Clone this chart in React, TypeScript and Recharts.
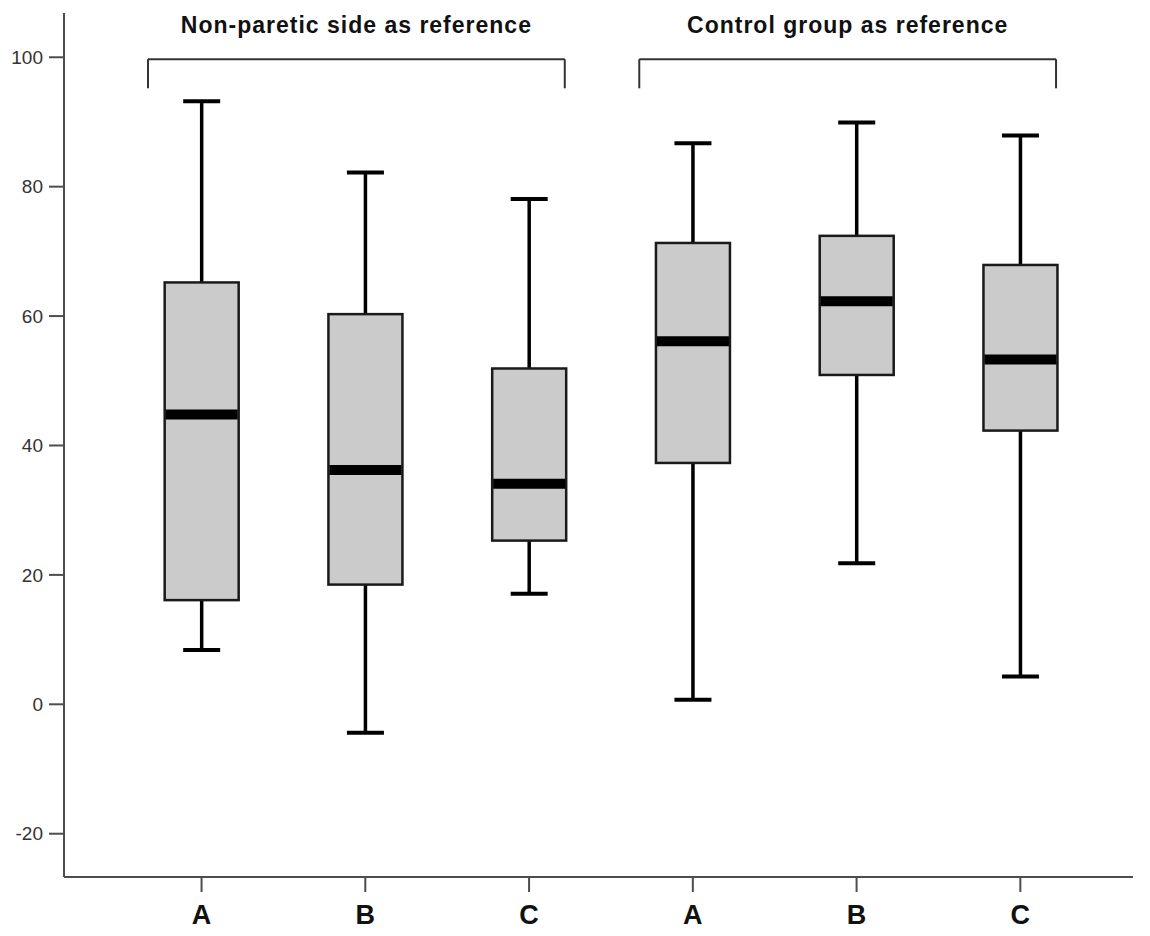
import React from 'react';
import { ComposedChart, Bar, XAxis, YAxis, ReferenceLine } from 'recharts';

const categories = ['A', 'B', 'C', 'A', 'B', 'C'];
const positions = [1, 2, 3, 4, 5, 6];
const whiskerLow = [8.4, -4.4, 17.1, 0.7, 21.8, 4.3];
const quartile1 = [16.1, 18.5, 25.3, 37.3, 50.9, 42.3];
const medians = [44.8, 36.2, 34.1, 56.1, 62.3, 53.3];
const quartile3 = [65.2, 60.3, 51.9, 71.3, 72.4, 67.9];
const whiskerHigh = [93.2, 82.2, 78.1, 86.7, 89.9, 87.9];
const yTicks = [-20, 0, 20, 40, 60, 80, 100];
const groupTitles = ['Non-paretic side as reference', 'Control group as reference'];
const groupMembers = [[0, 2], [3, 5]];

const data = positions.map((p, i) => ({
  pos: p,
  label: categories[i],
  min: whiskerLow[i],
  q1: quartile1[i],
  median: medians[i],
  q3: quartile3[i],
  max: whiskerHigh[i],
  box: [quartile1[i], quartile3[i]],
}));

const FONT = '"Liberation Sans", Arial, sans-serif';

const BoxShape = (props: any) => {
  const { x, y, width, height, payload } = props;
  const ppu = height / (payload.q3 - payload.q1);
  const py = (v: number) => y + (payload.q3 - v) * ppu;
  const cx = x + width / 2;
  const capW = 37;
  const yMax = py(payload.max);
  const yMin = py(payload.min);
  const yMed = py(payload.median);
  return (
    <g>
      <line x1={cx} x2={cx} y1={yMax} y2={y} stroke="#000" strokeWidth={3.5} />
      <line x1={cx} x2={cx} y1={y + height} y2={yMin} stroke="#000" strokeWidth={3.5} />
      <line x1={cx - capW / 2} x2={cx + capW / 2} y1={yMax} y2={yMax} stroke="#000" strokeWidth={4} />
      <line x1={cx - capW / 2} x2={cx + capW / 2} y1={yMin} y2={yMin} stroke="#000" strokeWidth={4} />
      <rect x={x} y={y} width={width} height={height} fill="#cbcbcb" stroke="#1a1a1a" strokeWidth={2.5} />
      <line x1={x + 1} x2={x + width - 1} y1={yMed} y2={yMed} stroke="#000" strokeWidth={10} />
    </g>
  );
};

const bracketTop = 99.7;
const bracketLeg = 95.2;

export default function App() {
  return (
    <div style={{ position: 'absolute', left: 0, top: 0, width: 1150, height: 936, background: '#fff' }}>
      <ComposedChart
        width={1150}
        height={936}
        data={data}
        margin={{ top: 13, right: 17, bottom: 0, left: 0 }}
      >
        <XAxis
          type="number"
          dataKey="pos"
          domain={[0.16, 6.688]}
          allowDataOverflow
          ticks={positions}
          interval={0}
          tickFormatter={(v: number) => categories[v - 1]}
          height={59}
          tickSize={15}
          tickMargin={13}
          stroke="#4d4d4d"
          strokeWidth={2}
          tick={{ fill: '#111', fontSize: 27, fontWeight: 'bold', fontFamily: FONT }}
        />
        <YAxis
          type="number"
          domain={[-26.69, 106.84]}
          allowDataOverflow
          ticks={yTicks}
          interval={0}
          width={64}
          tickSize={15}
          tickMargin={6}
          stroke="#4d4d4d"
          strokeWidth={2}
          tick={{ fill: '#333', fontSize: 19, fontFamily: FONT }}
        />
        <Bar dataKey="box" barSize={74} shape={BoxShape} isAnimationActive={false} />
        {groupMembers.map(([s, e], gi) => {
          const left = positions[s] - 0.327;
          const right = positions[e] + 0.218;
          return (
            <React.Fragment key={gi}>
              <ReferenceLine
                segment={[{ x: left, y: bracketTop }, { x: right, y: bracketTop }]}
                stroke="#333"
                strokeWidth={2}
                ifOverflow="visible"
                label={{
                  value: groupTitles[gi],
                  position: 'top',
                  offset: 26,
                  fill: '#111',
                  fontSize: 23,
                  fontWeight: 'bold',
                  fontFamily: FONT,
                  letterSpacing: 1,
                }}
              />
              <ReferenceLine
                segment={[{ x: left, y: bracketTop }, { x: left, y: bracketLeg }]}
                stroke="#333"
                strokeWidth={2}
                ifOverflow="visible"
              />
              <ReferenceLine
                segment={[{ x: right, y: bracketTop }, { x: right, y: bracketLeg }]}
                stroke="#333"
                strokeWidth={2}
                ifOverflow="visible"
              />
            </React.Fragment>
          );
        })}
      </ComposedChart>
    </div>
  );
}
